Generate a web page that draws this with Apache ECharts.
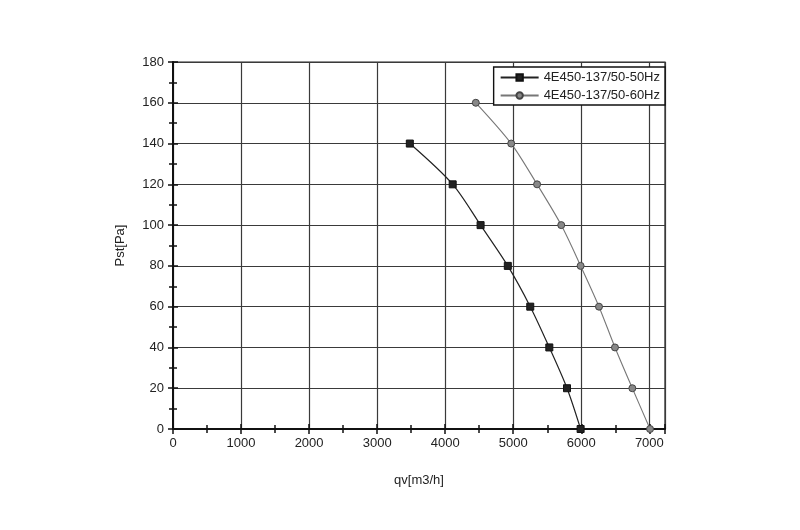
<!DOCTYPE html>
<html>
<head>
<meta charset="utf-8">
<script src="https://cdn.jsdelivr.net/npm/echarts@6/dist/echarts.min.js"></script>
<style>
  html, body { margin: 0; padding: 0; background: #fff; }
  #container { width: 800px; height: 530px; }
</style>
</head>
<body>
<div id="container"></div>
<script>
let chart = echarts.init(document.getElementById('container'));

// values
var seriesNames = ['4E450-137/50-50Hz', '4E450-137/50-60Hz'];
var flow50 = [3480, 4110, 4520, 4920, 5250, 5530, 5790, 5990];
var pst50 = [140, 120, 100, 80, 60, 40, 20, 0];
var flow60 = [4450, 4970, 5350, 5705, 5990, 6260, 6495, 6750, 7010];
var pst60 = [160, 140, 120, 100, 80, 60, 40, 20, 0];

var font = 'Liberation Sans, Arial, sans-serif';

function pairs(xs, ys) {
    return xs.map((x, i) => [x, ys[i]]);
}

// shared axis bits
var xRange = { min: 0, max: 7230, interval: 1000 };
var yRange = { min: 0, max: 180, interval: 20 };
var tickLine = { color: '#111', width: 1.5 };

var option = {
    animation: false,
    backgroundColor: '#fff',
    grid: {
        left: 173,
        right: 135,
        top: 62,
        bottom: 101,
        show: true,
        borderColor: '#222',
        borderWidth: 1.2,
    },
    legend: {
        data: seriesNames,
        orient: 'vertical',
        right: 135,
        top: 67,
        padding: [4, 5, 3, 6],
        itemGap: 5,
        itemWidth: 38,
        itemHeight: 8,
        borderColor: '#111',
        borderWidth: 1.4,
        borderRadius: 0,
        backgroundColor: '#fff',
        textStyle: { fontFamily: font, fontSize: 13, color: '#222' },
    },
    xAxis: [{
        type: 'value',
        min: xRange.min,
        max: xRange.max,
        interval: xRange.interval,
        name: 'qv[m3/h]',
        nameLocation: 'middle',
        nameGap: 45,
        nameTextStyle: { fontFamily: font, fontSize: 13, color: '#222' },
        axisLine: { show: true, onZero: false, lineStyle: { color: '#111', width: 2 } },
        axisTick: { show: true, length: 5, lineStyle: tickLine },
        minorTick: { show: true, splitNumber: 2, length: 4, lineStyle: tickLine },
        axisLabel: {
            fontFamily: font, fontSize: 13, color: '#222', margin: 8,
            formatter: v => v > 7000 ? '' : v,
        },
        splitLine: { show: true, lineStyle: { color: '#3a3a3a', width: 1.2 } },
    }, {
        // same scale again, only to get ticks on the inside too
        type: 'value',
        position: 'bottom',
        min: xRange.min,
        max: xRange.max,
        interval: xRange.interval,
        axisLine: { show: false },
        axisTick: { show: true, inside: true, length: 5, lineStyle: tickLine },
        minorTick: { show: true, splitNumber: 2, length: 4, lineStyle: tickLine },
        axisLabel: { show: false },
        splitLine: { show: false },
    }],
    yAxis: [{
        type: 'value',
        min: yRange.min,
        max: yRange.max,
        interval: yRange.interval,
        name: 'Pst[Pa]',
        nameLocation: 'middle',
        nameGap: 46,
        nameTextStyle: { fontFamily: font, fontSize: 13, color: '#222' },
        axisLine: { show: true, onZero: false, lineStyle: { color: '#111', width: 2 } },
        axisTick: { show: true, length: 5, lineStyle: tickLine },
        minorTick: { show: true, splitNumber: 2, length: 4, lineStyle: tickLine },
        axisLabel: { fontFamily: font, fontSize: 13, color: '#222', margin: 9 },
        splitLine: { show: true, lineStyle: { color: '#3a3a3a', width: 1.2 } },
    }, {
        type: 'value',
        position: 'left',
        min: yRange.min,
        max: yRange.max,
        interval: yRange.interval,
        axisLine: { show: false },
        axisTick: { show: true, inside: true, length: 5, lineStyle: tickLine },
        minorTick: { show: true, splitNumber: 2, length: 4, lineStyle: tickLine },
        axisLabel: { show: false },
        splitLine: { show: false },
    }],
    series: [
        {
            name: seriesNames[0],
            type: 'line',
            smooth: 0.3,
            symbol: 'rect',
            symbolSize: 7,
            lineStyle: { color: '#222', width: 1.2 },
            itemStyle: { color: '#222', borderColor: '#111', borderWidth: 1 },
            data: pairs(flow50, pst50),
            z: 3,
        },
        {
            name: seriesNames[1],
            type: 'line',
            smooth: 0.3,
            symbol: 'circle',
            symbolSize: 7,
            lineStyle: { color: '#777', width: 1.1 },
            itemStyle: { color: '#888', borderColor: '#444', borderWidth: 1 },
            data: pairs(flow60, pst60),
            z: 3,
        },
    ],
};

chart.setOption(option);
</script>
</body>
</html>
